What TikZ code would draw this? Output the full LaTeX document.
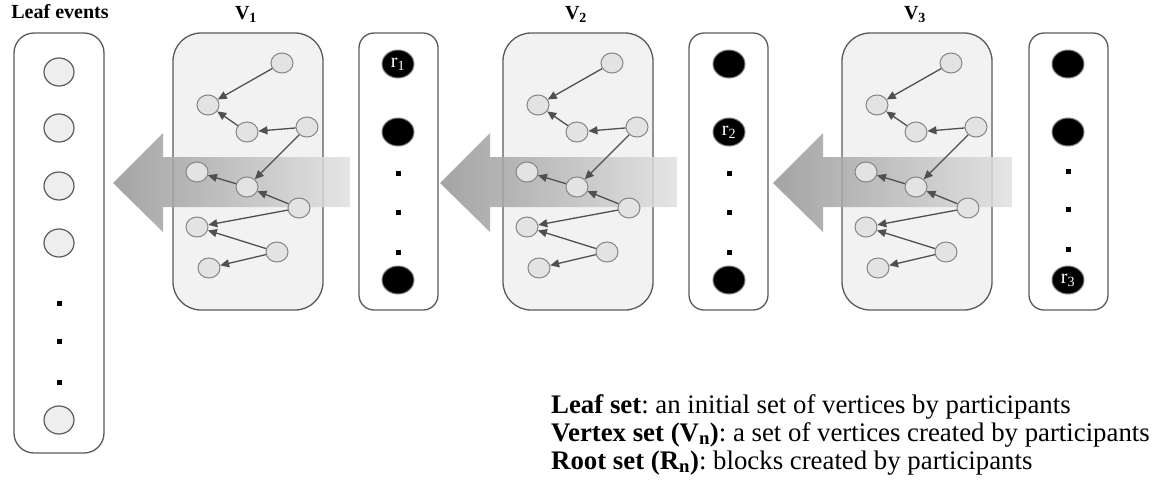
\documentclass[tikz,border=0pt]{standalone}
\usepackage{fontspec}
\setmainfont{Liberation Serif}
\usetikzlibrary{arrows.meta,shapes.geometric}
\definecolor{boxgray}{HTML}{5A5A5A}
\definecolor{edgegray}{HTML}{505050}
\definecolor{vfill}{HTML}{F2F2F2}
\definecolor{nodefill}{HTML}{E3E3E3}
\definecolor{nodeline}{HTML}{858585}
\definecolor{leaffill}{HTML}{EEEEEE}
\frenchspacing
\begin{document}
\begin{tikzpicture}[x=1pt,y=-1pt,
    setbox/.style={draw=boxgray,line width=1.3pt},
    vnode/.style={ellipse,draw=nodeline,fill=nodefill,line width=1pt,
      minimum width=22pt,minimum height=20pt,inner sep=0pt},
    leaf/.style={ellipse,draw=boxgray,fill=leaffill,line width=1.2pt,
      minimum width=30pt,minimum height=28pt,inner sep=0pt},
    root/.style={ellipse,draw=gray,fill=black,line width=1pt,
      minimum width=32pt,minimum height=28pt,inner sep=0pt,text=white,
      font=\fontsize{20}{20}\selectfont},
    dot/.style={rectangle,fill=black,minimum size=5pt,inner sep=0pt},
    edge/.style={draw=edgegray,line width=1.3pt,-{Triangle[length=9pt,width=8pt]}},
    title/.style={font=\bfseries\fontsize{20}{22}\selectfont,anchor=base},
    legend/.style={font=\fontsize{26.8}{28}\selectfont,anchor=base west,inner sep=0pt},
    bigarrow/.style={left color=black!42,right color=black!12,fill opacity=0.85}]
  \useasboundingbox (0,0) rectangle (1157,491);

  \draw[setbox,rounded corners=20pt] (14,33) rectangle (104,453);
  \node[title] (tleaf) at (60,18) {Leaf events};
  \node[leaf] (l1) at (59,72) {};
  \node[leaf] (l2) at (59,128) {};
  \node[leaf] (l3) at (59,186) {};
  \node[leaf] (l4) at (59,243) {};
  \node[dot] (ld1) at (59,303) {};
  \node[dot] (ld2) at (59,341) {};
  \node[dot] (ld3) at (59,382) {};
  \node[leaf] (l5) at (59,420) {};

  \foreach \s/\vx/\tip/\tail in {1/173/113/350,2/503/440/677,3/842/773/1012} {
    \draw[setbox,fill=vfill,rounded corners=28pt] (\vx,33) rectangle ++(150,277);
    \node[title] (t\s) at (\vx+73,19) {V\textsubscript{\s}};
    \shade[bigarrow] (\tip,183) -- (\tip+50,133) -- (\tip+50,157) -- (\tail,157)
      -- (\tail,207) -- (\tip+50,207) -- (\tip+50,232) -- cycle;
    \begin{scope}[xshift=\vx]
      \node[vnode] (v\s-a) at (109,63) {};
      \node[vnode] (v\s-b) at (35,105) {};
      \node[vnode] (v\s-c) at (74,132) {};
      \node[vnode] (v\s-d) at (134,127) {};
      \node[vnode] (v\s-e) at (24,172) {};
      \node[vnode] (v\s-f) at (74,187) {};
      \node[vnode] (v\s-g) at (126,208) {};
      \node[vnode] (v\s-h) at (24,227) {};
      \node[vnode] (v\s-i) at (104,252) {};
      \node[vnode] (v\s-j) at (36,268) {};
    \end{scope}
    \foreach \p/\q in {a/b,c/b,d/c,d/f,f/e,g/f,g/h,i/h,i/j}
      \draw[edge] (v\s-\p) -- (v\s-\q);
  }

  \draw[setbox,rounded corners=15pt] (359,33) rectangle (438,310);
  \node[root] (r1) at (398,64) {r\textsubscript{1}};
  \node[root] (b1a) at (398,132) {};
  \node[dot] (d1a) at (398,173) {};
  \node[dot] (d1b) at (398,212) {};
  \node[dot] (d1c) at (398,252) {};
  \node[root] (b1b) at (398,280) {};

  \draw[setbox,rounded corners=15pt] (689,33) rectangle (768,310);
  \node[root] (b2a) at (729,64) {};
  \node[root] (r2) at (729,132) {r\textsubscript{2}};
  \node[dot] (d2a) at (729,173) {};
  \node[dot] (d2b) at (729,212) {};
  \node[dot] (d2c) at (729,252) {};
  \node[root] (b2b) at (729,280) {};

  \draw[setbox,rounded corners=15pt] (1029,33) rectangle (1108,310);
  \node[root] (b3a) at (1068,64) {};
  \node[root] (b3b) at (1068,132) {};
  \node[dot] (d3a) at (1068,171) {};
  \node[dot] (d3b) at (1068,209) {};
  \node[dot] (d3c) at (1068,249) {};
  \node[root] (r3) at (1068,280) {r\textsubscript{3}};

  \node[legend] (lg1) at (551,413) {\textbf{Leaf set}: an initial set of vertices by participants};
  \node[legend] (lg2) at (551,441) {\textbf{Vertex set (V\textsubscript{n})}: a set of vertices created by participants};
  \node[legend] (lg3) at (551,469) {\textbf{Root set (R\textsubscript{n})}: blocks created by participants};
\end{tikzpicture}
\end{document}
